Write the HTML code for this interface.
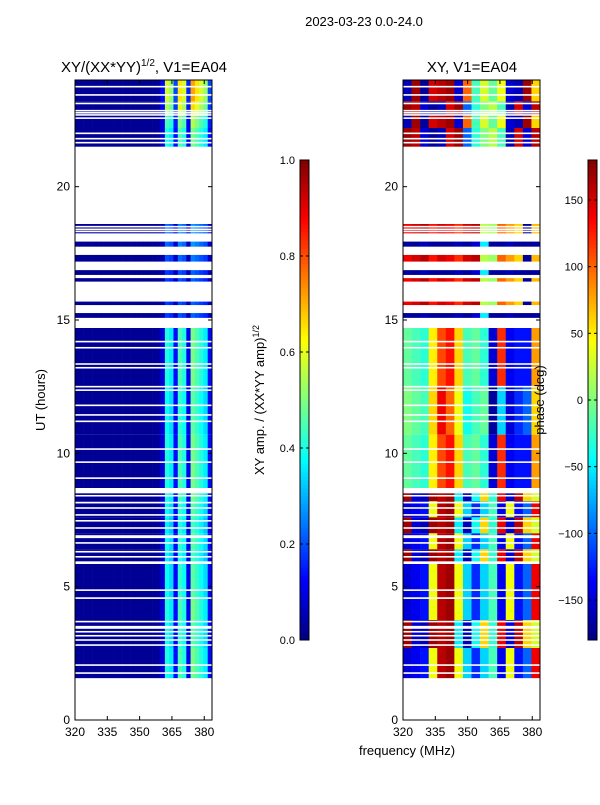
<!DOCTYPE html>
<html><head><meta charset="utf-8">
<style>
body{margin:0;background:#fff;font-family:"Liberation Sans","DejaVu Sans",sans-serif;}
svg text{font-family:"Liberation Sans","DejaVu Sans",sans-serif;}
</style></head>
<body>
<svg id="fig" width="600" height="800" viewBox="0 0 600 800" xmlns="http://www.w3.org/2000/svg">
<rect width="600" height="800" fill="#fff"/>
<text x="364" y="26" font-size="13" text-anchor="middle">2023-03-23 0.0-24.0</text>
<text x="144" y="72" font-size="15" text-anchor="middle">XY/(XX*YY)<tspan font-size="10" dy="-6">1/2</tspan><tspan dy="6">, V1=EA04</tspan></text>
<text x="472" y="72" font-size="15" text-anchor="middle">XY, V1=EA04</text>
<text transform="translate(45,400) rotate(-90)" font-size="13" text-anchor="middle">UT (hours)</text>
<text transform="translate(264,400) rotate(-90)" font-size="13" text-anchor="middle">XY amp. / (XX*YY amp)<tspan font-size="9" dy="-5">1/2</tspan></text>
<g id="left"></g>
<g id="right"></g>
<g id="cb1"></g>
<g id="cb2"></g>
<text transform="translate(544,400) rotate(-90)" font-size="13" text-anchor="middle">phase (deg)</text>
<text x="407" y="755" font-size="13" text-anchor="middle">frequency (MHz)</text>
</svg>
<script>
// ---- data ----
const xTicks = [320,335,350,365,380];
const yTicks = [0,5,10,15,20];
const ampTicks = [0.0,0.2,0.4,0.6,0.8,1.0];
const phaseTicks = [-150,-100,-50,0,50,100,150];
// amplitude profile over 32 channels (320-383.6 MHz)
const ampProfile = [0.02,0.02,0.02,0.02,0.02,0.02,0.02,0.02,0.02,0.02,0.02,0.02,0.02,0.02,0.02,0.02,0.02,0.02,0.02,0.03,0.1,0.45,0.4,0.15,0.5,0.45,0.12,0.55,0.5,0.45,0.4,0.15];
// phase types over 16 channel groups
const phaseTypes = [
 [-160,170,-170,150,160,170,-150,100,-20,30,-10,40,-150,-160,170,60],
 [170,160,-150,-170,-160,150,170,-100,-30,0,20,-20,-160,150,-150,160],
 [140,150,160,130,150,140,120,150,160,20,10,100,80,60,-170,70],
 [-170,-170,-160,-170,-170,-170,-160,-170,-150,-50,-170,-170,-160,-170,-170,-170],
 [-10,-20,-30,50,110,130,60,-20,-10,-30,-150,120,-140,-130,-130,80],
 [0,-10,-20,60,140,100,40,-40,-20,-10,-170,-60,-150,-120,-100,60],
 [-150,-140,-130,40,160,170,40,-60,-120,-60,-20,-140,40,-130,-100,140],
 [170,-150,-160,170,160,170,-50,-160,-40,60,-30,140,-150,160,60,30]
];
// data rows: start hour, end hour
const rowStart = [23.2,22.7,22.2,21.5,18.25,17.75,17.19,16.69,16.44,15.56,15.08,12.5,10.7,8.7,8.2,7.6,7.0,6.4,5.9,4.6,3.75,2.7,1.57];
const rowEnd   = [24,23.2,22.7,22.2,18.6,17.94,17.44,16.87,16.57,15.69,15.26,14.7,12.5,10.7,8.5,8.2,7.6,7.0,6.4,5.9,4.6,3.75,2.7];
const rowPhase = [0,1,0,1,2,3,2,3,2,2,3,4,5,4,7,6,7,6,7,6,6,7,6];
const rowAmp   = [1.3,1.2,1.0,0.9,0.5,0.5,0.45,0.4,0.4,0.4,0.4,0.9,0.85,0.9,0.9,0.85,0.8,0.85,0.8,0.85,0.9,0.85,0.9];
// thin gaps (hours)
const gapHours = [23.75,23.44,23.12,22.85,22.77,22.69,22.57,22.0,21.8,21.65,18.5,18.4,18.32,14.19,13.96,13.35,13.21,12.5,12.37,11.8,11.44,11.2,10.16,9.67,9.07,8.41,8.15,7.95,7.69,7.47,7.2,6.9,6.85,6.64,6.31,6.12,5.92,5.88,4.87,4.57,3.69,3.5,3.45,3.31,3.16,3.0,2.81,2.06,1.76];

// ---- helpers ----
const NS='http://www.w3.org/2000/svg';
function mk(p,t,a){const e=document.createElementNS(NS,t);for(const k in a)e.setAttribute(k,a[k]);p.appendChild(e);return e;}
function jet(v){v=Math.max(0,Math.min(1,v));
 const r=Math.max(0,Math.min(1,1.5-Math.abs(4*v-3))),g=Math.max(0,Math.min(1,1.5-Math.abs(4*v-2))),b=Math.max(0,Math.min(1,1.5-Math.abs(4*v-1)));
 return `rgb(${Math.round(r*255)},${Math.round(g*255)},${Math.round(b*255)})`;}
const yTop=80,yBot=720,fmin=320,fmax=383.6;
function yS(h){return yBot-(h/24)*(yBot-yTop);}
function panel(gid,x0,x1,kind){
 const g=document.getElementById(gid);
 const xS=f=>x0+(f-fmin)/(fmax-fmin)*(x1-x0);
 for(let r=0;r<rowStart.length;r++){
  const y0=yS(rowEnd[r]),y1=yS(rowStart[r]);
  if(kind==='amp'){
   for(let c=0;c<ampProfile.length;c++){
    const fa=fmin+c*(fmax-fmin)/ampProfile.length,fb=fmin+(c+1)*(fmax-fmin)/ampProfile.length;
    const cell=mk(g,'rect',{x:xS(fa),y:y0,width:xS(fb)-xS(fa)+0.3,height:y1-y0,fill:jet(Math.min(1,ampProfile[c]*(c<20?1:rowAmp[r])))});
    
    
   }
  } else {
   const ph=phaseTypes[rowPhase[r]];
   for(let c=0;c<ph.length;c++){
    const fa=fmin+c*(fmax-fmin)/ph.length,fb=fmin+(c+1)*(fmax-fmin)/ph.length;
    const cell=mk(g,'rect',{x:xS(fa),y:y0,width:xS(fb)-xS(fa)+0.3,height:y1-y0,fill:jet((ph[c]+180)/360)});
    
    
   }
  }
 }
 for(const h of gapHours){
  const l=mk(g,'rect',{x:x0,y:yS(h)-0.8,width:x1-x0,height:1.6,fill:'#fff'});
  
  
 }
 const fr=mk(g,'rect',{x:x0,y:yTop,width:x1-x0,height:yBot-yTop,fill:'none',stroke:'#000','stroke-width':1});
 
 
 for(const t of xTicks){const x=xS(t);
  mk(g,'line',{x1:x,y1:yBot,x2:x,y2:yBot-4,stroke:'#000'});
  mk(g,'line',{x1:x,y1:yTop,x2:x,y2:yTop+4,stroke:'#000'});
  const tx=mk(g,'text',{x:x,y:yBot+16,'font-size':12,'text-anchor':'middle'});tx.textContent=t;
  
  
 }
 for(const t of yTicks){const y=yS(t);
  mk(g,'line',{x1:x0,y1:y,x2:x0+4,y2:y,stroke:'#000'});
  mk(g,'line',{x1:x1,y1:y,x2:x1-4,y2:y,stroke:'#000'});
  const tx=mk(g,'text',{x:x0-5,y:y+4,'font-size':12,'text-anchor':'end'});tx.textContent=t;
  
  
 }
}
panel('left',75,212,'amp');
panel('right',403,540,'phase');
function cbar(gid,x,vmin,vmax,ticks,fmt){
 const g=document.getElementById(gid),y0=160,y1=640,n=120;
 for(let i=0;i<n;i++){mk(g,'rect',{x:x,y:y1-(i+1)*(y1-y0)/n,width:9,height:(y1-y0)/n+0.5,fill:jet((i+0.5)/n)});}
 mk(g,'rect',{x:x,y:y0,width:9,height:y1-y0,fill:'none',stroke:'#000'});
 for(const t of ticks){const y=y1-(t-vmin)/(vmax-vmin)*(y1-y0);
  mk(g,'line',{x1:x,y1:y,x2:x+3,y2:y,stroke:'#000'});
  mk(g,'line',{x1:x+9,y1:y,x2:x+6,y2:y,stroke:'#000'});
  const tx=mk(g,'text',{x:x-5,y:y+4,'font-size':11,'text-anchor':'end'});tx.textContent=fmt(t);
  
  
 }
}
cbar('cb1',300,0,1,ampTicks,t=>t.toFixed(1));
cbar('cb2',588,-180,180,phaseTicks,t=>t<0?'\u2212'+(-t):String(t));
</script>
</body></html>
